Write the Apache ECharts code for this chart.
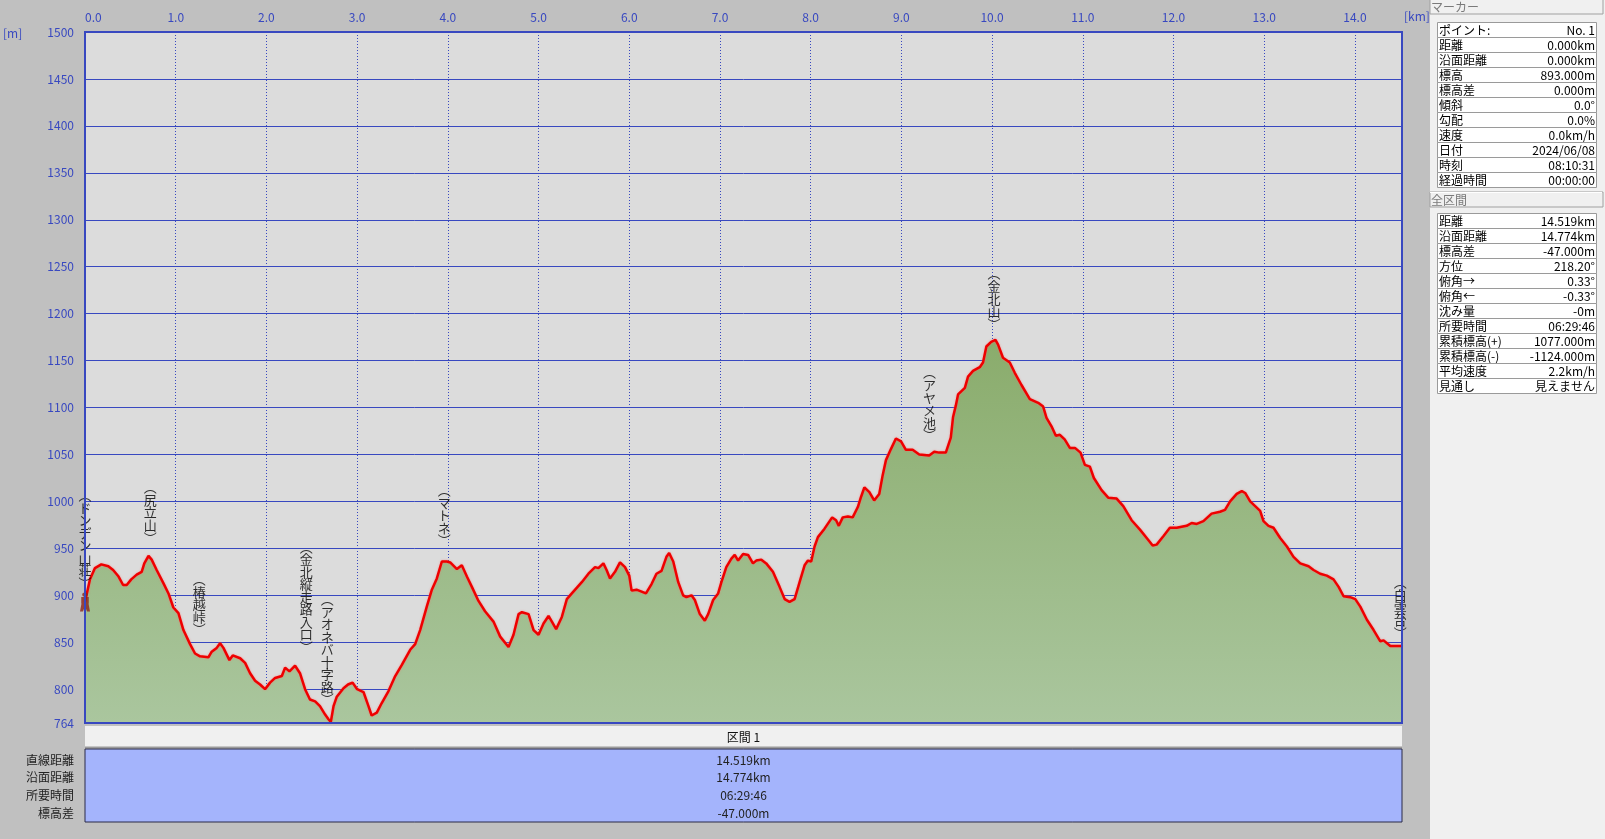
<!DOCTYPE html>
<html><head><meta charset="utf-8">
<script src="https://cdn.jsdelivr.net/npm/echarts@6/dist/echarts.min.js"></script>
<style>html,body{margin:0;padding:0;background:#c0c0c0;}#c{width:1605px;height:839px;}</style>
</head><body><div id="c"></div>
<script>
// ---- data ----
const distKm = [0,0.055,0.11,0.18,0.257,0.31,0.37,0.42,0.46,0.51,0.57,0.625,0.654,0.70,0.735,0.79,0.864,0.92,0.974,1.03,1.085,1.158,1.213,1.268,1.36,1.397,1.452,1.489,1.526,1.592,1.629,1.71,1.765,1.82,1.875,1.93,1.985,2.04,2.096,2.17,2.206,2.254,2.316,2.37,2.426,2.48,2.537,2.59,2.647,2.684,2.71,2.74,2.776,2.85,2.90,2.95,3.0,3.07,3.125,3.16,3.217,3.27,3.346,3.42,3.493,3.585,3.64,3.695,3.768,3.824,3.879,3.934,3.99,4.026,4.1,4.154,4.21,4.265,4.338,4.41,4.503,4.577,4.669,4.724,4.78,4.817,4.89,4.945,5.0,5.055,5.11,5.147,5.194,5.257,5.312,5.367,5.477,5.55,5.623,5.66,5.715,5.75,5.788,5.843,5.898,5.953,6.0,6.026,6.08,6.136,6.184,6.246,6.3,6.356,6.41,6.44,6.485,6.54,6.594,6.63,6.686,6.723,6.778,6.833,6.87,6.925,6.98,7.016,7.07,7.126,7.163,7.2,7.255,7.31,7.364,7.4,7.456,7.51,7.584,7.657,7.713,7.767,7.823,7.878,7.933,7.97,8.006,8.043,8.08,8.153,8.237,8.28,8.31,8.354,8.41,8.463,8.52,8.556,8.592,8.647,8.7,8.756,8.794,8.83,8.886,8.94,8.996,9.05,9.124,9.197,9.307,9.362,9.417,9.49,9.545,9.57,9.6,9.625,9.7,9.735,9.79,9.864,9.9,9.937,9.99,10.037,10.066,10.12,10.195,10.25,10.324,10.416,10.508,10.563,10.6,10.655,10.703,10.747,10.8,10.857,10.913,10.975,11.023,11.078,11.122,11.207,11.28,11.373,11.446,11.538,11.63,11.722,11.77,11.814,11.888,11.96,12.035,12.09,12.145,12.2,12.256,12.33,12.42,12.513,12.568,12.624,12.697,12.753,12.79,12.845,12.955,12.992,13.047,13.102,13.176,13.25,13.323,13.397,13.489,13.544,13.617,13.69,13.764,13.82,13.875,13.948,14.004,14.059,14.132,14.206,14.28,14.316,14.39,14.463,14.519];
const elevM = [893,917,929,933,931,927,920,911,911,917,922,925,934,942,938,927,913,902,887,881,863,848,838,835,834,840,844,849,844,831,836,833,828,817,809,805,800,807,812,814,823,819,825,817,800,789,787,782,773,768,765,782,792,801,805,807,800,797,782,772,775,785,798,814,826,842,848,863,888,906,918,936,936,935,928,932,920,909,894,883,872,856,845,858,880,882,880,863,858,870,878,872,864,877,896,902,914,923,930,929,934,927,918,925,935,930,921,905,906,904,902,912,923,926,941,945,936,914,900,898,900,895,880,873,880,895,902,914,930,939,943,937,944,943,934,937,938,934,925,909,896,893,896,914,932,937,936,952,962,971,983,980,974,983,984,983,994,1005,1015,1010,1001,1008,1028,1044,1056,1067,1064,1055,1055,1050,1049,1053,1052,1052,1068,1090,1102,1114,1121,1133,1139,1143,1148,1165,1170,1172,1167,1153,1148,1137,1124,1109,1105,1101,1089,1080,1070,1071,1066,1057,1057,1052,1039,1037,1025,1012,1004,1003,995,980,970,959,953,954,963,972,972,973,974,977,976,979,987,989,991,1000,1008,1011,1009,1000,990,979,974,972,961,952,941,934,931,927,923,921,917,909,899,898,896,888,874,863,851,852,846,846,846];

const waypointNames = ['ドンデン山荘','尻立山','椿越峠','金北縦走路入口','アオネバ十字路','マトネ','アヤメ池','金北山','白雲台'];
const waypointDist  = [0.0, 0.72, 1.26, 2.44, 2.67, 3.96, 9.31, 10.02, 14.5];
const waypointElev  = [893, 940, 835, 800, 770, 936, 1049, 1171, 846];

const xTickLabels = ['0.0','1.0','2.0','3.0','4.0','5.0','6.0','7.0','8.0','9.0','10.0','11.0','12.0','13.0','14.0'];
const yLabelValues = [764,800,850,900,950,1000,1050,1100,1150,1200,1250,1300,1350,1400,1450,1500];
const yGridValues  = [800,850,900,950,1000,1050,1100,1150,1200,1250,1300,1350,1400,1450];

const markerLabels = ['ポイント:','距離','沿面距離','標高','標高差','傾斜','勾配','速度','日付','時刻','経過時間'];
const markerValues = ['No. 1','0.000km','0.000km','893.000m','0.000m','0.0°','0.0%','0.0km/h','2024/06/08','08:10:31','00:00:00'];
const totalLabels = ['距離','沿面距離','標高差','方位','俯角→','俯角←','沈み量','所要時間','累積標高(+)','累積標高(-)','平均速度','見通し'];
const totalValues = ['14.519km','14.774km','-47.000m','218.20°','0.33°','-0.33°','-0m','06:29:46','1077.000m','-1124.000m','2.2km/h','見えません'];

const sectionTitle = '区間 1';
const sectionLabels = ['直線距離','沿面距離','所要時間','標高差'];
const sectionValues = ['14.519km','14.774km','06:29:46','-47.000m'];

// ---- styling / layout ----
const FONT = '"Noto Sans CJK JP", "Noto Sans", sans-serif';
const BLUE = '#3848c0';
const labelGap = [16, 17, 24, 39, 15, 18, 17, 14, 10];

const G = {left: 85, top: 32, right: 1402, bottom: 723};

function vert(name) {
  return ['{p|︵}'].concat(Array.from(name).map(c => '{c|' + c + '}')).concat(['{q|︶}']).join('\n');
}

const chart = echarts.init(document.getElementById('c'), null, {renderer: 'canvas'});

const graphics = [];
graphics.push({type: 'rect', z: 100, shape: {x: G.left, y: G.top, width: G.right - G.left, height: G.bottom - G.top},
  style: {fill: 'none', stroke: BLUE, lineWidth: 2}});
graphics.push({type: 'text', left: 3, top: 27, style: {text: '[m]', fill: BLUE, font: '12px ' + FONT}});
graphics.push({type: 'text', left: 1404, top: 10, style: {text: '[km]', fill: BLUE, font: '12px ' + FONT}});

// bottom section table
graphics.push({type: 'rect', shape: {x: G.left, y: 726, width: G.right - G.left, height: 22}, style: {fill: '#f0f0f0', stroke: null}});
graphics.push({type: 'line', shape: {x1: G.left, y1: 747.5, x2: G.right, y2: 747.5}, style: {stroke: '#9a9a9a', lineWidth: 2}});
graphics.push({type: 'text', x: (G.left + G.right) / 2, y: 737, style: {text: sectionTitle, fill: '#111', font: '12px ' + FONT, align: 'center', verticalAlign: 'middle'}});
graphics.push({type: 'rect', shape: {x: G.left, y: 749, width: G.right - G.left, height: 73}, style: {fill: '#a4b4fc', stroke: '#2a2a48', lineWidth: 1}});
sectionLabels.forEach((t, i) => {
  const y = 760 + i * 17.7;
  graphics.push({type: 'text', x: 74, y: y, style: {text: t, fill: '#222', font: '12px ' + FONT, align: 'right', verticalAlign: 'middle'}});
  graphics.push({type: 'text', x: (G.left + G.right) / 2, y: y, style: {text: sectionValues[i], fill: '#222', font: '12px ' + FONT, align: 'center', verticalAlign: 'middle'}});
});

// right panel
graphics.push({type: 'rect', shape: {x: 1430, y: 0, width: 175, height: 839}, style: {fill: '#f0f0f0'}});
function header(y, text) {
  graphics.push({type: 'rect', shape: {x: 1430, y: y, width: 173, height: 15}, style: {fill: '#f0f0f0', stroke: '#a0a0a0', lineWidth: 1}});
  graphics.push({type: 'line', shape: {x1: 1430, y1: y + 0.5, x2: 1602, y2: y + 0.5}, style: {stroke: '#ffffff', lineWidth: 1}});
  graphics.push({type: 'text', x: 1431, y: y + 8, style: {text: text, fill: '#7a7a7a', font: '12px ' + FONT, verticalAlign: 'middle'}});
}
function table(y0, labels, values) {
  labels.forEach((t, i) => {
    const y = y0 + i * 15;
    graphics.push({type: 'rect', shape: {x: 1437.5, y: y + 0.5, width: 159, height: 15}, style: {fill: '#ffffff', stroke: '#9a9a9a', lineWidth: 1}});
    graphics.push({type: 'text', x: 1439, y: y + 8.5, style: {text: t, fill: '#000', font: '12px ' + FONT, verticalAlign: 'middle'}});
    graphics.push({type: 'text', x: 1595, y: y + 8.5, style: {text: values[i], fill: '#000', font: '12px ' + FONT, align: 'right', verticalAlign: 'middle'}});
  });
}
header(-1, 'マーカー');
table(22, markerLabels, markerValues);
header(192, '全区間');
table(213, totalLabels, totalValues);

const option = {
  backgroundColor: '#c0c0c0',
  animation: false,
  grid: {left: G.left, top: G.top, right: 1605 - G.right, bottom: 839 - G.bottom, show: true,
    backgroundColor: '#dcdcdc', borderColor: BLUE, borderWidth: 0},
  xAxis: {
    type: 'value', position: 'top', min: 0, max: distKm[distKm.length - 1], interval: 1,
    axisLine: {show: false}, axisTick: {show: false},
    axisLabel: {color: BLUE, fontFamily: FONT, fontSize: 12, margin: 9, showMaxLabel: false, alignMinLabel: 'left',
      formatter: v => { const i = Math.round(v); return Math.abs(v - i) < 1e-6 && xTickLabels[i] ? xTickLabels[i] : ''; }},
    splitLine: {show: true, lineStyle: {color: BLUE, width: 1, type: [1, 2]}}
  },
  yAxis: {
    type: 'value', min: 764, max: 1500,
    axisLine: {show: false},
    axisTick: {show: false, customValues: yGridValues},
    axisLabel: {color: BLUE, fontFamily: FONT, fontSize: 12, margin: 11, customValues: yLabelValues,
      formatter: v => String(v)},
    splitLine: {show: true, lineStyle: {color: BLUE, width: 1}}
  },
  graphic: graphics,
  series: [
    {
      type: 'line', data: distKm.map((d, i) => [d, elevM[i]]), showSymbol: false, symbol: 'none',
      lineStyle: {color: '#ee0000', width: 2.5, shadowColor: 'rgba(255,110,110,0.7)', shadowBlur: 2},
      areaStyle: {origin: 'start', opacity: 1, color: new echarts.graphic.LinearGradient(0, 0, 0, 1, [
        {offset: 0, color: '#8aac6c'}, {offset: 1, color: '#aac69e'}])},
      z: 3
    },
    {
      type: 'scatter', symbolSize: 1, itemStyle: {color: 'transparent'}, z: 5,
      data: waypointNames.map((n, i) => ({
        value: [waypointDist[i], waypointElev[i]],
        label: {show: true, position: 'top', distance: labelGap[i], formatter: vert(n),
          rich: {
            c: {fontFamily: FONT, fontSize: 13, lineHeight: 12.5, color: '#000', align: 'center'},
            p: {fontFamily: FONT, fontSize: 13, lineHeight: 9, color: '#000', align: 'center', verticalAlign: 'bottom'},
            q: {fontFamily: FONT, fontSize: 13, lineHeight: 9, color: '#000', align: 'center', verticalAlign: 'top'}
          }}
      }))
    },
    {
      type: 'scatter', z: 6, symbol: 'path://M5,0 A2.2,2.2 0 1 1 4.99,0 Z M2,4.6 H8 V11 H2 Z M2.2,11 L1,19 H3.4 L5,13.5 L6.6,19 H9 L7.8,11 Z',
      symbolSize: [10, 19], itemStyle: {color: '#8c2418'},
      data: [[waypointDist[0], waypointElev[0]]]
    }
  ]
};
chart.setOption(option);
</script>
</body></html>
